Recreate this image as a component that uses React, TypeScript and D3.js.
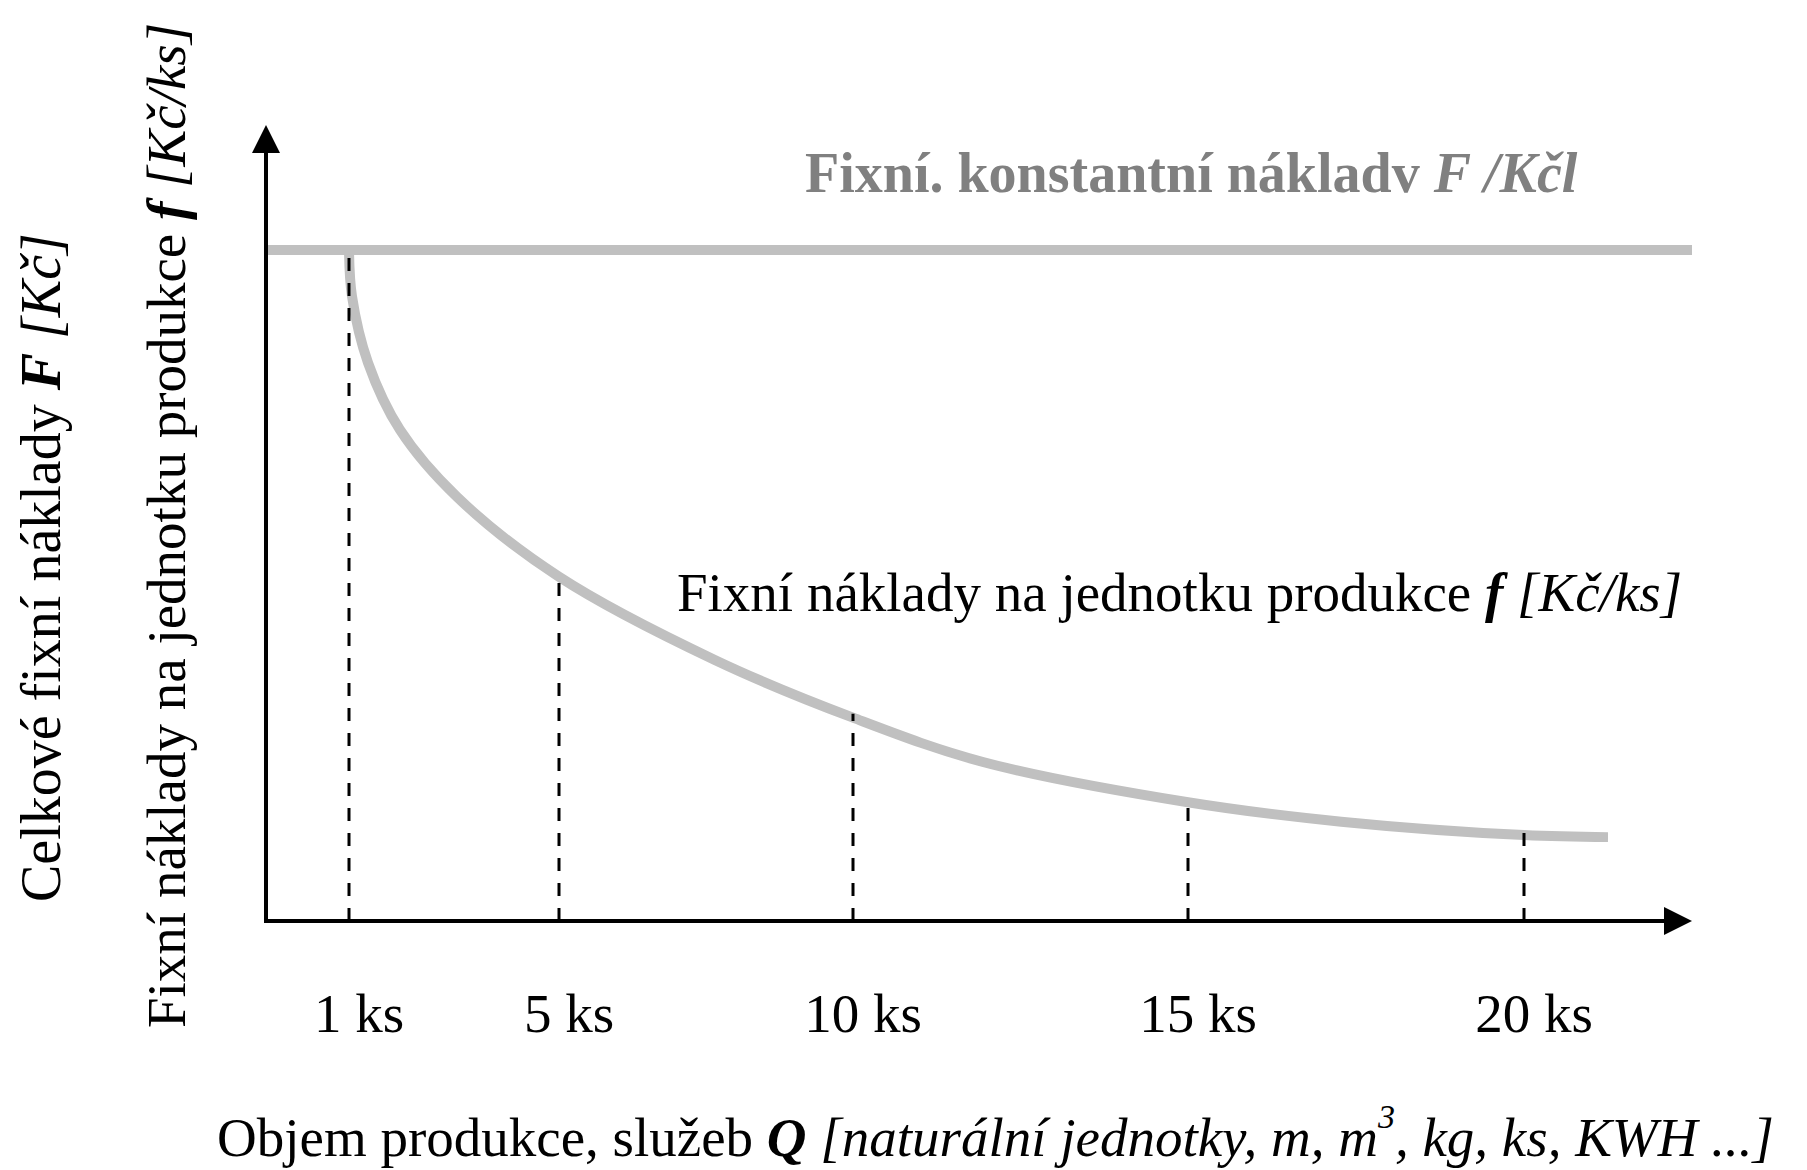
import React from 'react';
import * as d3 from 'd3';

// production volume Q at the marked points
const tickQ = [1, 5, 10, 15, 20];
const tickLabels = ['1 ks', '5 ks', '10 ks', '15 ks', '20 ks'];
// unit fixed cost curve f (F = 100)
const curveQ = [1, 1.057, 1.362, 1.971, 3.057, 5, 7.65, 10, 11.94, 15, 17.28, 20, 21.25];
const curveF = [100, 93.1, 83.2, 73.2, 63.2, 51.3, 38.9, 30.3, 23.7, 17.7, 14.8, 12.8, 12.5];
const totalF = 100;

const W = 1807;
const H = 1170;
const FONT = '"Liberation Serif", "Times New Roman", serif';

const App = () => {
    const left = 266;
    const right = 1692;
    const bottom = 921;
    const axisTop = 125;

    // the ticks are not evenly spaced in the original, so piecewise scale
    const x = d3.scaleLinear().domain(tickQ).range([349, 559, 853, 1188, 1524]);
    const y = d3.scaleLinear().domain([0, totalF]).range([bottom, 250]);

    const pts = curveQ.map((q, i) => ({ q, f: curveF[i] }));
    const line = d3.line<{ q: number; f: number }>()
        .x(d => x(d.q))
        .y(d => y(d.f))
        .curve(d3.curveCatmullRom.alpha(0.5));

    const fAt = (q: number) => (pts.find(p => p.q === q) || { f: 0 }).f;

    return (
        <svg width={W} height={H} style={{ position: 'absolute', left: 0, top: 0, background: '#fff' }}
            fontFamily={FONT}>
            {/* total fixed cost line */}
            <line x1={left} x2={right} y1={y(totalF)} y2={y(totalF)} stroke="#c0c0c0" strokeWidth={10} />
            {/* unit fixed cost curve */}
            <path d={line(pts) || ''} fill="none" stroke="#c0c0c0" strokeWidth={10} />

            {/* dashed guides */}
            {tickQ.map(q => (
                <line key={q} x1={x(q)} x2={x(q)} y1={bottom} y2={y(fAt(q)) - 4}
                    stroke="#000" strokeWidth={3} strokeDasharray="13,12" />
            ))}

            {/* axes */}
            <line x1={left} x2={left} y1={bottom + 2} y2={axisTop + 20} stroke="#000" strokeWidth={4} />
            <path d={`M${left},${axisTop} L${left - 14},${axisTop + 28} L${left + 14},${axisTop + 28} Z`} fill="#000" />
            <line x1={left - 2} x2={right - 20} y1={bottom} y2={bottom} stroke="#000" strokeWidth={4} />
            <path d={`M${right},${bottom} L${right - 28},${bottom - 14} L${right - 28},${bottom + 14} Z`} fill="#000" />

            {/* tick labels */}
            {tickQ.map((q, i) => (
                <text key={q} x={x(q) + 10} y={1032} textAnchor="middle" fontSize={55}>{tickLabels[i]}</text>
            ))}

            {/* series labels */}
            <text x={805} y={192} fontSize={56} fontWeight="bold" fill="#808080">
                Fixní. konstantní nákladv <tspan fontStyle="italic">F /Kčl</tspan>
            </text>
            <text x={677} y={611} fontSize={55} fill="#000">
                Fixní náklady na jednotku produkce <tspan fontWeight="bold" fontStyle="italic">f</tspan>
                <tspan fontStyle="italic"> [Kč/ks]</tspan>
            </text>

            {/* axis titles */}
            <text x={217} y={1156} fontSize={55}>
                Objem produkce, služeb <tspan fontWeight="bold" fontStyle="italic">Q</tspan>
                <tspan fontStyle="italic"> [naturální jednotky, m, m</tspan>
                <tspan fontStyle="italic" fontSize={34} dy={-28}>3</tspan>
                <tspan fontStyle="italic" dy={28}>, kg, ks, KWH ...]</tspan>
            </text>
            <text transform="translate(60,902) rotate(-90)" fontSize={56}>
                Celkové fixní náklady <tspan fontWeight="bold" fontStyle="italic">F</tspan>
                <tspan fontStyle="italic"> [Kč]</tspan>
            </text>
            <text transform="translate(185,1028) rotate(-90)" fontSize={55}>
                Fixní náklady na jednotku produkce <tspan fontWeight="bold" fontStyle="italic">f</tspan>
                <tspan fontStyle="italic"> [Kč/ks]</tspan>
            </text>
        </svg>
    );
};

export default App;
